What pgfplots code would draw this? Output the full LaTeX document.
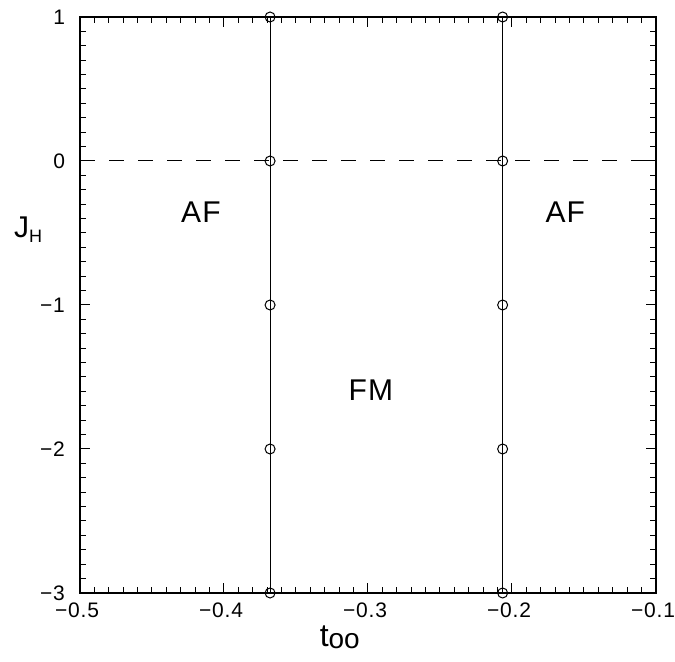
\documentclass[border=0pt]{standalone}
\usepackage{fontspec}
\setmainfont{Liberation Sans}
\newfontfamily\spaced[LetterSpace=4]{Liberation Sans}
\usepackage{pgfplots}
\pgfplotsset{compat=1.18}
\begin{document}
\begin{tikzpicture}
\begin{axis}[
  scale only axis, width=288pt, height=288pt,
  xmin=-0.5, xmax=-0.1, ymin=-3, ymax=1,
  xtick={-0.5,-0.4,-0.3,-0.2,-0.1},
  xticklabels={−0.5,−0.4,−0.3,−0.2,−0.1},
  ytick={-3,-2,-1,0,1},
  yticklabels={−3,−2,−1,0,1},
  minor x tick num=9, minor y tick num=9,
  tick align=inside,
  major tick length=5pt, minor tick length=3pt,
  every tick/.style={black, line width=0.5pt},
  axis line style={line width=0.7pt},
  tick label style={font=\spaced\fontsize{10.5}{12}\selectfont},
  xticklabel style={yshift=-1.5pt, xshift=-1.5pt, inner xsep=0pt},
  yticklabel style={xshift=-4pt},
  xlabel={{\fontsize{16}{16}\selectfont t}{\fontsize{14}{14}\selectfont\raisebox{-1pt}{oo}}},
  xlabel style={at={(axis description cs:0.451,0)}, anchor=north, yshift=-13pt},
  ylabel={{\fontsize{15}{15}\selectfont J}{\fontsize{9}{9}\selectfont\raisebox{-2.5pt}{H}}},
  ylabel style={rotate=-90, at={(axis description cs:0,0.63)}, anchor=center, xshift=-26pt},
  clip=false,
]
\addplot[black, line width=0.5pt, dash pattern=on 7.5pt off 7pt] coordinates {(-0.5,0) (-0.1,0)};
\addplot[black, line width=0.5pt, mark=o, mark size=2.5pt, mark options={solid}] coordinates {(-0.368,-3) (-0.368,-2) (-0.368,-1) (-0.368,0) (-0.368,1)};
\addplot[black, line width=0.5pt, mark=o, mark size=2.5pt, mark options={solid}] coordinates {(-0.2065,-3) (-0.2065,-2) (-0.2065,-1) (-0.2065,0) (-0.2065,1)};
\node[font=\spaced\fontsize{15}{15}\selectfont] at (axis cs:-0.416,-0.354) {AF};
\node[font=\spaced\fontsize{15}{15}\selectfont] at (axis cs:-0.163,-0.354) {AF};
\node[font=\spaced\fontsize{15}{15}\selectfont] at (axis cs:-0.298,-1.59) {FM};
\end{axis}
\pgfresetboundingbox
\useasboundingbox (-40pt,-34.5pt) rectangle (297.5pt,296.5pt);
\end{tikzpicture}
\end{document}
